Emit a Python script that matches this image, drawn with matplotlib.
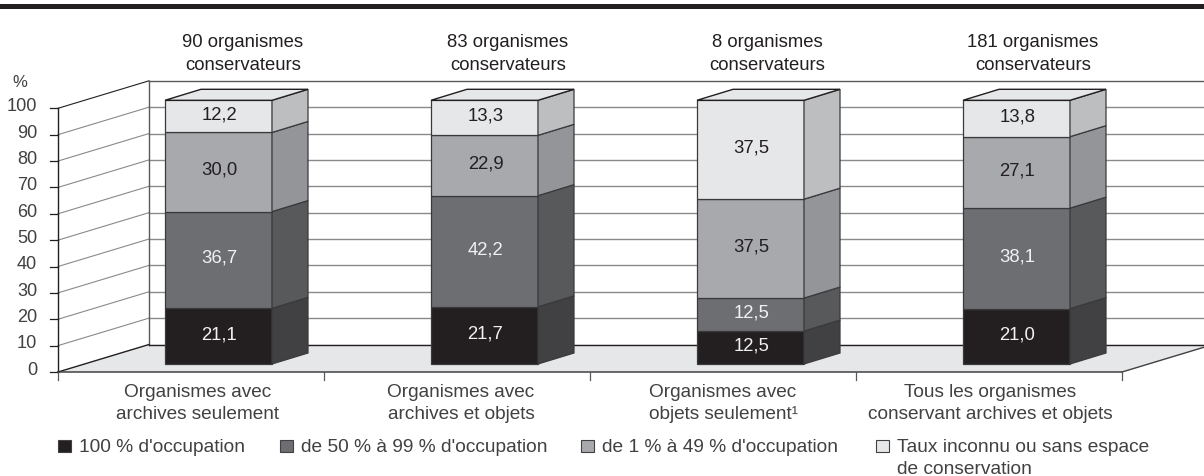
import numpy as np
import matplotlib
matplotlib.use('Agg')
import matplotlib.pyplot as plt
from matplotlib.patches import Polygon, Rectangle

plt.rcParams['font.family'] = ['Liberation Sans', 'DejaVu Sans']

# Data
groups = ['Organismes avec\narchives seulement', 'Organismes avec\narchives et objets',
          'Organismes avec\nobjets seulement\u00b9', 'Tous les organismes\nconservant archives et objets']
headers = ['90 organismes\nconservateurs', '83 organismes\nconservateurs',
           '8 organismes\nconservateurs', '181 organismes\nconservateurs']
occ_100 = [21.1, 21.7, 12.5, 21.0]
occ_50_99 = [36.7, 42.2, 12.5, 38.1]
occ_1_49 = [30.0, 22.9, 37.5, 27.1]
occ_unknown = [12.2, 13.3, 37.5, 13.8]
series = [occ_100, occ_50_99, occ_1_49, occ_unknown]
legend_labels = ["100 % d'occupation", "de 50 % à 99 % d'occupation", "de 1 % à 49 % d'occupation",
                 "Taux inconnu ou sans espace\nde conservation"]
yticks = [0, 10, 20, 30, 40, 50, 60, 70, 80, 90, 100]

front_colors = ['#231f20', '#6d6e71', '#a7a9ac', '#e6e7e8']
side_colors = ['#414042', '#58595b', '#939598', '#bcbec0']
label_colors = ['#f1f1f2', '#f1f1f2', '#231f20', '#231f20']
ink = '#231f20'
text_grey = '#414042'

# y is in percent, x in pixels
px = 2.637
fig = plt.figure(figsize=(12.04, 4.77), dpi=100)
ax = fig.add_axes([0, 0, 1, 1])
ax.set_xlim(0, 1204)
ax.set_ylim(-104 / px, 373 / px)
ax.axis('off')

# top band
ax.add_patch(Rectangle((0, 363 / px), 1204, 5 / px, color=ink, lw=0))

x0, x1 = 58, 1122
wall_dx, wall_dy = 91, 27.5 / px

# floor
ax.add_patch(Polygon([(x0, 0), (x0 + wall_dx, wall_dy), (x1 + wall_dx, wall_dy), (x1, 0)],
                     fc='#e6e7e8', ec='none', zorder=1))

# grid lines, wall and floor
for v in yticks[1:]:
    ax.plot([x0, x0 + wall_dx], [v, v + wall_dy], color='#8a8a8a' if v < 100 else ink, lw=0.8, zorder=2)
    ax.plot([x0 + wall_dx, 1204], [v + wall_dy, v + wall_dy], color='#8a8a8a' if v < 100 else '#58595b',
            lw=1.0, zorder=2)
ax.plot([x0 + wall_dx, x0 + wall_dx], [wall_dy, 100 + wall_dy], color='#58595b', lw=1.0, zorder=2)
ax.plot([x0, x0 + wall_dx], [0, wall_dy], color=ink, lw=1.0, zorder=3)
ax.plot([x0 + wall_dx, 1204], [wall_dy, wall_dy], color=ink, lw=1.0, zorder=3)
ax.plot([x0, x1], [0, 0], color=text_grey, lw=1.1, zorder=3)
ax.plot([x1, x1 + wall_dx], [0, wall_dy], color=text_grey, lw=1.0, zorder=3)
ax.plot([x0, x0], [0, 100], color=ink, lw=1.0, zorder=3)

for v in yticks:
    ax.plot([50, x0], [v, v], color=ink, lw=0.9, zorder=3)
    ax.text(37, v + 1.0, str(v), ha='right', va='center', fontsize=13.1, color=text_grey)
ax.text(20, 110, '%', ha='center', va='center', fontsize=12, color=text_grey)

for i in range(5):
    tx = x0 + 266 * i
    ax.plot([tx, tx], [0, -8 / px], color='#58595b', lw=0.9, zorder=3)

# bars
bar_w = 107
dep_x, dep_y = 36, 11 / px
base = 8 / px
header_x = [243, 508, 767, 1033]
group_x = [198, 461, 723, 990]
for i in range(4):
    left = 165 + 266 * i
    bottom = base
    scale = 100 / sum(s[i] for s in series)
    for s in range(4):
        h = series[s][i]
        top = bottom + h * scale
        ax.add_patch(Rectangle((left, bottom), bar_w, h * scale, fc=front_colors[s], ec='#3a3a3c', lw=0.9, zorder=5))
        ax.add_patch(Polygon([(left + bar_w, bottom), (left + bar_w + dep_x, bottom + dep_y),
                              (left + bar_w + dep_x, top + dep_y), (left + bar_w, top)],
                             fc=side_colors[s], ec='#3a3a3c', lw=0.9, zorder=5))
        ax.text(left + bar_w / 2 + 1, (bottom + top) / 2 + 1, f'{h:.1f}'.replace('.', ','), ha='center', va='center',
                fontsize=13.3, color=label_colors[s], zorder=6)
        bottom = top
    ax.add_patch(Polygon([(left, bottom), (left + dep_x, bottom + dep_y), (left + bar_w + dep_x, bottom + dep_y),
                          (left + bar_w, bottom)], fc='#e6e7e8', ec=ink, lw=1.0, zorder=5))
    ax.text(header_x[i], 121, headers[i], ha='center', va='center', fontsize=13.3, color=ink, linespacing=1.5)
    ax.text(group_x[i], -11.6, groups[i], ha='center', va='center', fontsize=13.7, color=text_grey, linespacing=1.4)

# legend
legend_x = [58, 280, 581, 876]
for x, lab, c in zip(legend_x, legend_labels, front_colors):
    ax.add_patch(Rectangle((x, -28 - 6 / px), 13, 12 / px, fc=c, ec=text_grey, lw=0.8))
    y = -32.5 if '\n' in lab else -28.1
    ax.text(x + 21, y, lab, ha='left', va='center', fontsize=13.8, color=text_grey, linespacing=1.42)

plt.savefig('out.png', dpi=100)
